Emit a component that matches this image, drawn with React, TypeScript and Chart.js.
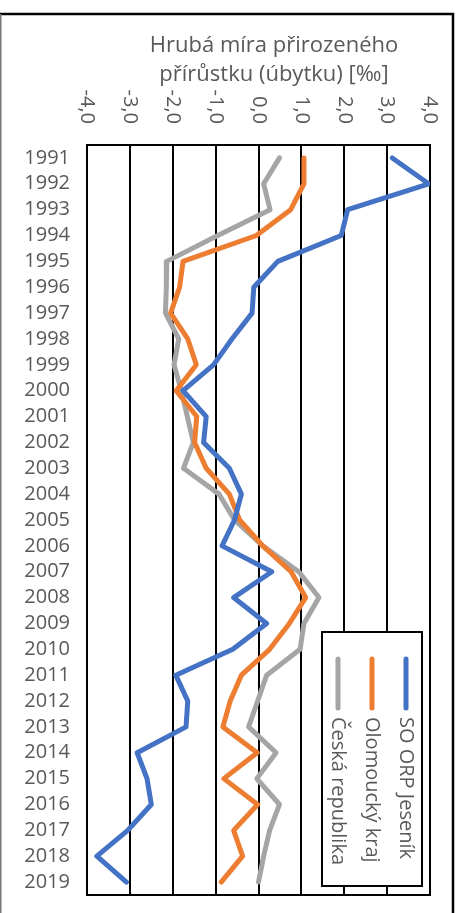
import React, { useEffect, useRef } from "react";
import { Chart, registerables } from "chart.js";

Chart.register(...registerables);

const years: string[] = [
  "1991", "1992", "1993", "1994", "1995", "1996", "1997", "1998", "1999", "2000",
  "2001", "2002", "2003", "2004", "2005", "2006", "2007", "2008", "2009", "2010",
  "2011", "2012", "2013", "2014", "2015", "2016", "2017", "2018", "2019",
];

const jesenik: number[] = [
  3.12, 3.97, 2.08, 1.93, 0.45, -0.11, -0.15, -0.62, -1.05, -1.76,
  -1.22, -1.28, -0.68, -0.4, -0.56, -0.85, 0.31, -0.58, 0.19, -0.6,
  -1.93, -1.65, -1.69, -2.83, -2.6, -2.5, -3.05, -3.77, -3.08,
];

const olomoucky: number[] = [
  1.06, 1.06, 0.75, -0.05, -1.76, -1.84, -2.05, -1.65, -1.45, -1.92,
  -1.44, -1.49, -1.22, -0.68, -0.44, 0.1, 0.76, 1.1, 0.72, 0.26,
  -0.4, -0.66, -0.83, -0.03, -0.81, -0.02, -0.58, -0.37, -0.87,
];

const cesko: number[] = [
  0.49, 0.12, 0.27, -0.95, -2.14, -2.15, -2.17, -1.86, -1.97, -1.8,
  -1.66, -1.52, -1.75, -0.92, -0.56, 0.1, 0.94, 1.41, 1.06, 0.97,
  0.19, -0.02, -0.23, 0.41, -0.04, 0.49, 0.26, 0.12, 0.0,
];

const seriesNames: string[] = ["SO ORP Jeseník", "Olomoucký kraj", "Česká republika"];
const seriesColors: string[] = ["#4472C4", "#ED7D31", "#A5A5A5"];
const titleLines: string[] = ["Hrubá míra přirozeného", "přírůstku (úbytku) [‰]"];
const xTicks: number[] = [-4, -3, -2, -1, 0, 1, 2, 3, 4];

const FONT = '"Open Sans", "DejaVu Sans", sans-serif';
const TEXT = "#595959";

const fmt = (v: number) => v.toFixed(1).replace(".", ",");

const decorPlugin = {
  id: "decor",
  beforeDatasetsDraw(chart: any) {
    const { ctx, chartArea } = chart;
    ctx.save();
    ctx.strokeStyle = "#000";
    ctx.lineWidth = 2;
    ctx.beginPath();
    ctx.moveTo(chartArea.left - 1, chartArea.bottom);
    ctx.lineTo(chartArea.right + 1, chartArea.bottom);
    ctx.stroke();
    ctx.restore();
  },
  afterDatasetsDraw(chart: any) {
    const { ctx } = chart;
    ctx.save();
    const bx = 322, by = 632, bw = 100, bh = 254;
    ctx.fillStyle = "#fff";
    ctx.fillRect(bx, by, bw, bh);
    ctx.strokeStyle = "#000";
    ctx.lineWidth = 2;
    ctx.strokeRect(bx, by, bw, bh);
    const xs = [406, 372, 338];
    seriesNames.forEach((name, i) => {
      ctx.strokeStyle = seriesColors[i];
      ctx.lineWidth = 5;
      ctx.lineCap = "round";
      ctx.beginPath();
      ctx.moveTo(xs[i], 659);
      ctx.lineTo(xs[i], 708);
      ctx.stroke();
      ctx.save();
      ctx.translate(xs[i], 717);
      ctx.rotate(Math.PI / 2);
      ctx.fillStyle = TEXT;
      ctx.font = `20px ${FONT}`;
      ctx.textAlign = "left";
      ctx.textBaseline = "middle";
      ctx.fillText(name, 0, 0);
      ctx.restore();
    });
    ctx.restore();
  },
  afterDraw(chart: any) {
    const { ctx } = chart;
    const xScale = chart.scales.x;
    ctx.save();
    ctx.strokeStyle = "#000";
    ctx.lineWidth = 2.5;
    ctx.beginPath();
    ctx.moveTo(0, 14);
    ctx.lineTo(453, 14);
    ctx.lineTo(453, 913);
    ctx.stroke();
    ctx.strokeStyle = "#777";
    ctx.lineWidth = 1.5;
    ctx.beginPath();
    ctx.moveTo(0.75, 14);
    ctx.lineTo(0.75, 913);
    ctx.stroke();
    ctx.fillStyle = TEXT;
    ctx.font = `22px ${FONT}`;
    ctx.textAlign = "center";
    ctx.textBaseline = "alphabetic";
    ctx.fillText(titleLines[0], 274, 52);
    ctx.fillText(titleLines[1], 274, 81);
    ctx.font = `20px ${FONT}`;
    xTicks.forEach((v) => {
      const px = xScale.getPixelForValue(v);
      ctx.save();
      ctx.translate(px, 124);
      ctx.rotate(Math.PI / 2);
      ctx.textAlign = "right";
      ctx.textBaseline = "middle";
      ctx.fillText(fmt(v), 0, 0);
      ctx.restore();
    });
    ctx.restore();
  },
};

export default function App() {
  const ref = useRef<HTMLCanvasElement | null>(null);
  useEffect(() => {
    const canvas = ref.current;
    if (!canvas) return;
    const chart = new Chart(canvas, {
      type: "line",
      data: {
        labels: years,
        datasets: [
          { label: seriesNames[0], data: jesenik, borderColor: seriesColors[0], backgroundColor: seriesColors[0] },
          { label: seriesNames[1], data: olomoucky, borderColor: seriesColors[1], backgroundColor: seriesColors[1] },
          { label: seriesNames[2], data: cesko, borderColor: seriesColors[2], backgroundColor: seriesColors[2] },
        ],
      },
      options: {
        indexAxis: "y",
        responsive: false,
        animation: false,
        devicePixelRatio: 1,
        layout: { padding: { left: 0, top: 0, right: 30, bottom: 18 } },
        plugins: {
          legend: { display: false },
          title: { display: false },
          tooltip: { enabled: false },
        },
        elements: {
          point: { radius: 0, hoverRadius: 0 },
          line: { borderWidth: 5, tension: 0, borderCapStyle: "round", borderJoinStyle: "round" },
        },
        scales: {
          x: {
            type: "linear",
            position: "top",
            min: -4,
            max: 4,
            ticks: { display: false, stepSize: 1 },
            grid: { color: "#000", lineWidth: 2, drawTicks: false },
            border: { display: true, color: "#000", width: 2 },
            afterFit: (s: any) => {
              s.height = 145;
              s.paddingLeft = 0;
              s.paddingRight = 0;
            },
          },
          y: {
            type: "category",
            position: "left",
            offset: true,
            grid: { display: false, drawTicks: false },
            border: { display: true, color: "#000", width: 2 },
            ticks: {
              autoSkip: false,
              padding: 17,
              color: TEXT,
              font: { family: FONT, size: 20 },
            },
            afterFit: (s: any) => {
              s.width = 87;
              s.paddingTop = 0;
              s.paddingBottom = 0;
            },
          },
        },
      } as any,
      plugins: [decorPlugin],
    });
    return () => chart.destroy();
  }, []);
  return (
    <canvas
      ref={ref}
      width={460}
      height={913}
      style={{ position: "fixed", left: 0, top: 0, width: 460, height: 913, background: "#fff" }}
    />
  );
}
